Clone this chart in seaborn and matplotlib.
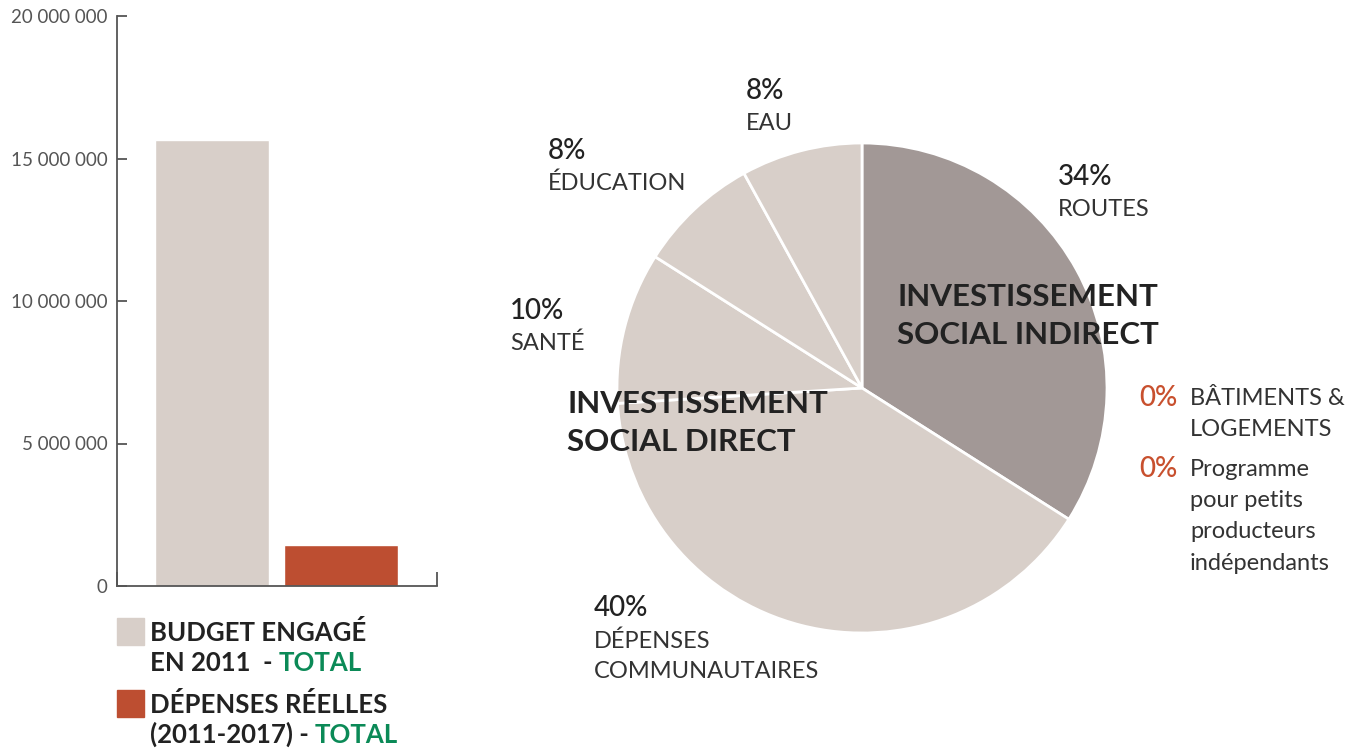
import matplotlib
matplotlib.use("Agg")
import matplotlib.pyplot as plt
import matplotlib.patches as mpatches
from matplotlib.ticker import FuncFormatter
import seaborn as sns
import pandas as pd

# ---------------- data ----------------
bar_categories = ["BUDGET ENGAGÉ EN 2011 - TOTAL", "DÉPENSES RÉELLES (2011-2017) - TOTAL"]
bar_values = [15650000, 1440000]
bar_colors = ["#d8cfc9", "#bd4e31"]
y_ticks = [0, 5000000, 10000000, 15000000, 20000000]

pie_labels = ["ROUTES", "DÉPENSES\nCOMMUNAUTAIRES", "SANTÉ", "ÉDUCATION", "EAU"]
pie_values = [34, 40, 10, 8, 8]
pie_colors = ["#a29896", "#d8cfc9", "#d8cfc9", "#d8cfc9", "#d8cfc9"]

zero_labels = ["BÂTIMENTS &\nLOGEMENTS", "Programme\npour petits\nproducteurs\nindépendants"]
zero_values = [0, 0]

legend_lines = [["BUDGET ENGAGÉ", "EN 2011  -"], ["DÉPENSES RÉELLES", "(2011-2017) -"]]
legend_tail = ["TOTAL", "TOTAL"]
group_labels = ["INVESTISSEMENT\nSOCIAL INDIRECT", "INVESTISSEMENT\nSOCIAL DIRECT"]

# ---------------- style ----------------
sns.set_style("ticks")
plt.rcParams["font.family"] = ["Lato", "DejaVu Sans"]

W, H = 1370, 748
fig = plt.figure(figsize=(W / 100, H / 100), dpi=100)

def fx(px):
    return px / W

def fy(py):
    return 1 - py / H

DARK = "#222222"
TXT = "#333333"
GRAY = "#555555"
GREEN = "#0b8a57"
ORANGE = "#c8502e"

# ---------------- bar chart ----------------
ax = fig.add_axes([fx(117), fy(586), fx(437) - fx(117), fy(16) - fy(586)])
df = pd.DataFrame({"cat": bar_categories, "val": bar_values})
sns.barplot(data=df, x="cat", y="val", hue="cat", palette=bar_colors,
            saturation=1, width=0.89, legend=False, ax=ax)
ax.set_ylim(0, 20000000)
ax.set_xlim(-0.736, 1.744)
ax.set_yticks(y_ticks)
ax.yaxis.set_major_formatter(FuncFormatter(lambda v, p: f"{int(v):,}".replace(",", " ")))
ax.set_xticks([-0.736, 1.744])
ax.set_xticklabels(["", ""])
ax.set_xlabel("")
ax.set_ylabel("")
for s in ["top", "right"]:
    ax.spines[s].set_visible(False)
for s in ["left", "bottom"]:
    ax.spines[s].set_color("#555555")
    ax.spines[s].set_linewidth(1.3)
ax.tick_params(axis="y", direction="in", length=7, width=1.3, color="#555555",
               labelsize=13.5, labelcolor=GRAY, pad=7)
ax.tick_params(axis="x", direction="in", length=10, width=1.3, color="#555555")

# legend (manual)
sq = 27
LFS = 18.5
for i, (lines, tail, col) in enumerate(zip(legend_lines, legend_tail, bar_colors)):
    top = [618, 690][i]
    base = [641, 713][i]
    fig.patches.append(mpatches.Rectangle((fx(117), fy(top + sq)), fx(sq), sq / H,
                                          transform=fig.transFigure, color=col))
    fig.text(fx(150), fy(base), lines[0], ha="left", va="baseline", fontsize=LFS,
             fontweight="bold", color=DARK)
    t2 = fig.text(fx(150), fy(base + 30), lines[1], ha="left", va="baseline",
                  fontsize=LFS, fontweight="bold", color=DARK)
    fig.canvas.draw()
    bb = t2.get_window_extent(fig.canvas.get_renderer())
    fig.text(bb.x1 / W + fx(6), fy(base + 30), tail, ha="left", va="baseline",
             fontsize=LFS, fontweight="bold", color=GREEN)

# ---------------- pie chart ----------------
R = 245
cx, cy = 862, 388
pax = fig.add_axes([fx(cx - R), fy(cy + R), 2 * R / W, 2 * R / H])
pax.pie(pie_values, colors=pie_colors, startangle=90, counterclock=False,
        wedgeprops=dict(edgecolor="white", linewidth=2))
pax.set_xlim(-1, 1)
pax.set_ylim(-1, 1)
pax.set_aspect("auto")
pax.axis("off")

# label positions (pixel, top-left of percentage line)
label_pos = {
    "ROUTES": (1058, 164),
    "DÉPENSES\nCOMMUNAUTAIRES": (594, 595),
    "SANTÉ": (510, 298),
    "ÉDUCATION": (548, 138),
    "EAU": (746, 78),
}
for lab, val in zip(pie_labels, pie_values):
    x, y = label_pos[lab]
    fig.text(fx(x), fy(y), f"{val}%", ha="left", va="top", fontsize=20,
             fontweight="medium", color=DARK)
    fig.text(fx(x), fy(y + 35), lab, ha="left", va="top", fontsize=17,
             fontweight="normal", color=TXT, linespacing=1.55)

for lab, (x, y) in zip(group_labels, [(897, 283), (567, 390)]):
    fig.text(fx(x), fy(y), lab, ha="left", va="top", fontsize=22.5,
             fontweight="bold", color=DARK, linespacing=1.45)

for lab, val, y in zip(zero_labels, zero_values, [385, 456]):
    fig.text(fx(1139), fy(y), f"{val}%", ha="left", va="top", fontsize=20,
             fontweight="medium", color=ORANGE)
    fig.text(fx(1190), fy(y + 3), lab, ha="left", va="top", fontsize=17,
             fontweight="normal", color=TXT, linespacing=1.6)

fig.savefig("out.png", dpi=100)
